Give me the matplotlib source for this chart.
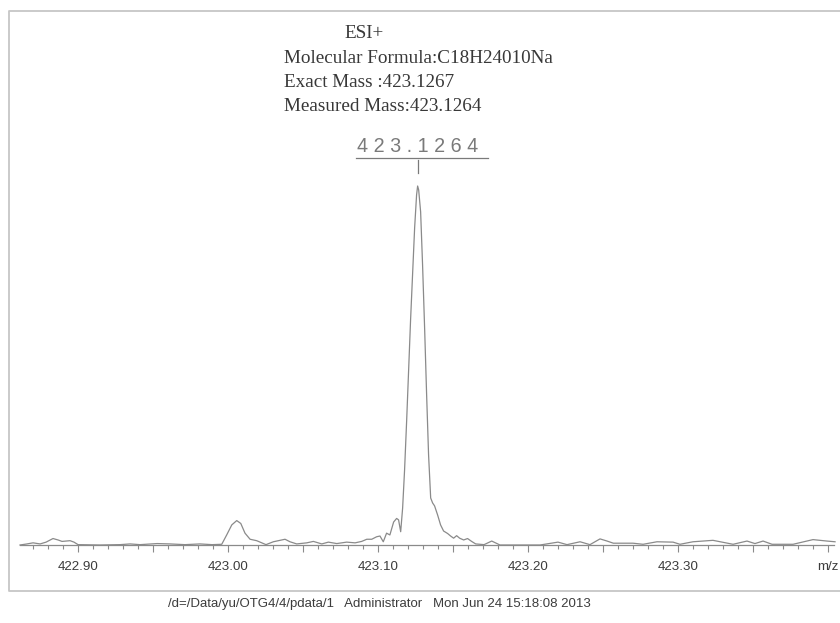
import matplotlib
matplotlib.use("Agg")
import matplotlib.pyplot as plt
from matplotlib.lines import Line2D
from matplotlib.ticker import FixedLocator, FixedFormatter

# Spectrum trace: m/z and relative intensity (%)
mz = [422.8613, 422.8660, 422.8700, 422.8747, 422.8787, 422.8833, 422.8867, 422.8893,
      422.8920, 422.8947, 422.8973, 422.9000, 422.9147, 422.9280, 422.9347, 422.9413,
      422.9527, 422.9613, 422.9713, 422.9813, 422.9893, 422.9958, 422.9991, 423.0025,
      423.0058, 423.0085, 423.0113, 423.0147, 423.0191, 423.0225, 423.0253, 423.0302,
      423.0380, 423.0413, 423.0458, 423.0525, 423.0569, 423.0625, 423.0669, 423.0725,
      423.0791, 423.0847, 423.0891, 423.0925, 423.0958, 423.0991, 423.1013, 423.1035,
      423.1057, 423.1079, 423.1104, 423.1124, 423.1137, 423.1151, 423.1164, 423.1177,
      423.1191, 423.1204, 423.1217, 423.1231, 423.1244, 423.1257, 423.1264, 423.1271,
      423.1284, 423.1297, 423.1311, 423.1324, 423.1337, 423.1351, 423.1364, 423.1377,
      423.1397, 423.1417, 423.1437, 423.1464, 423.1484, 423.1504, 423.1524, 423.1544,
      423.1571, 423.1597, 423.1624, 423.1651, 423.1707, 423.1758, 423.1813, 423.1947,
      423.2080, 423.2200, 423.2260, 423.2347, 423.2413, 423.2480, 423.2527, 423.2569,
      423.2700, 423.2767, 423.2860, 423.2967, 423.3013, 423.3100, 423.3233, 423.3367,
      423.3460, 423.3513, 423.3567, 423.3627, 423.3767, 423.3900, 423.3993, 423.4047]
intensity = [0.0, 0.3, 0.6, 0.3, 0.8, 1.8, 1.4, 1.0,
             1.1, 1.2, 0.8, 0.1, 0.0, 0.1, 0.3, 0.1,
             0.4, 0.3, 0.1, 0.3, 0.1, 0.2, 2.8, 5.6,
             6.8, 6.0, 3.3, 1.6, 1.2, 0.6, 0.1, 0.9,
             1.6, 0.9, 0.3, 0.6, 1.0, 0.3, 0.8, 0.4,
             0.8, 0.6, 1.0, 1.6, 1.6, 2.3, 2.5, 0.9,
             3.3, 2.8, 6.4, 7.4, 7.0, 3.7, 10.3, 20.9,
             34.8, 48.7, 62.7, 76.0, 88.3, 97.5, 100.0, 98.9,
             92.8, 78.0, 59.9, 41.8, 25.1, 13.1, 11.7, 10.9,
             8.4, 5.6, 3.9, 3.2, 2.5, 1.9, 2.6, 1.9,
             1.4, 1.8, 1.0, 0.3, 0.1, 1.1, 0.0, 0.0,
             0.0, 0.8, 0.1, 0.9, 0.1, 1.7, 1.1, 0.5,
             0.5, 0.2, 0.9, 0.8, 0.2, 0.9, 1.3, 0.2,
             1.1, 0.4, 1.1, 0.2, 0.2, 1.5, 1.1, 0.9]

peak_mz = 423.1264
peak_label = "4 2 3 . 1 2 6 4"

major_ticks = [422.90, 423.00, 423.10, 423.20, 423.30, 423.40]
major_labels = ["422.90", "423.00", "423.10", "423.20", "423.30", "m/z"]
mid_ticks = [422.95, 423.05, 423.15, 423.25, 423.35]

header_lines = ["Molecular Formula:C18H24010Na",
                "Exact Mass :423.1267",
                "Measured Mass:423.1264"]
footer = "/d=/Data/yu/OTG4/4/pdata/1   Administrator   Mon Jun 24 15:18:08 2013"

W, H = 840, 623
fig = plt.figure(figsize=(W / 100, H / 100), dpi=100)
fig.patch.set_facecolor("white")

# page frame, open on the right side
def px(x, y):
    return x / W, 1 - y / H

frame_pts = [px(845, 10.5), px(8.5, 10.5), px(8.5, 591), px(845, 591)]
fig.add_artist(Line2D([p[0] for p in frame_pts], [p[1] for p in frame_pts],
                      transform=fig.transFigure, color="#c6c6c6", lw=1.3))

ax = fig.add_axes([20 / W, (H - 545) / H, 814 / W, 359 / H])
ax.plot(mz, intensity, color="#8a8a8a", lw=0.9, clip_on=False)
ax.set_xlim(422.8613, 423.4040)
ax.set_ylim(0, 100)
ax.set_facecolor("none")
for s in ("top", "left", "right"):
    ax.spines[s].set_visible(False)
ax.spines["bottom"].set_color("#8a8a8a")
ax.spines["bottom"].set_linewidth(0.9)
ax.set_yticks([])

minor = [round(422.87 + 0.01 * i, 2) for i in range(54)]
minor = [m for m in minor if all(abs(m - t) > 1e-6 for t in major_ticks + mid_ticks)]
ax.xaxis.set_major_locator(FixedLocator(major_ticks + mid_ticks))
ax.xaxis.set_major_formatter(FixedFormatter(major_labels + [""] * len(mid_ticks)))
ax.xaxis.set_minor_locator(FixedLocator(minor))
ax.tick_params(axis="x", which="major", length=5.2, width=0.8, color="#8a8a8a",
               direction="out", pad=6.5, labelsize=9.6, labelcolor="#3c3c3c")
ax.tick_params(axis="x", which="minor", length=3.0, width=0.8, color="#8a8a8a",
               direction="out")
for lab in ax.get_xticklabels():
    lab.set_family("Liberation Sans")

# peak annotation: value, underline and marker tick
ytop = 100.0
y_text = ytop + (186 - 151.7) / 3.59
y_line = ytop + (186 - 158) / 3.59
ax.text(peak_mz, y_text, peak_label, ha="center", va="baseline",
        fontsize=14.2, family="Liberation Sans", color="#7a7a7a",
        fontweight="light", clip_on=False)
ax.plot([peak_mz - 62 / 1500, peak_mz + 70 / 1500], [y_line, y_line],
        color="#7a7a7a", lw=0.9, clip_on=False)
ax.plot([peak_mz, peak_mz], [ytop + (186 - 160) / 3.59, ytop + (186 - 173) / 3.59],
        color="#7a7a7a", lw=0.9, clip_on=False)

# header
fig.text(344 / W, 1 - 38.3 / H, "ESI+", family="Liberation Serif",
         fontsize=13.8, color="#383838", va="baseline")
for i, line in enumerate(header_lines):
    yb = [63.3, 86.7, 111.0][i]
    fig.text(284 / W, 1 - yb / H, line, family="Liberation Serif",
             fontsize=13.8, color="#383838", va="baseline")

fig.text(168 / W, 1 - 607 / H, footer, family="Liberation Sans",
         fontsize=9.5, color="#3c3c3c", va="baseline")

fig.savefig("out.png", dpi=100, facecolor="white")
